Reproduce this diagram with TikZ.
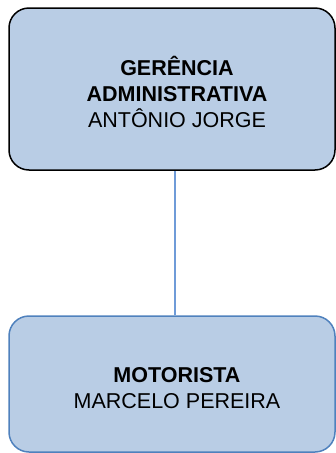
\documentclass[tikz,border=0pt]{standalone}
\usepackage{fontspec}
\setmainfont{Liberation Sans}
\definecolor{boxfill}{HTML}{B9CDE5}
\definecolor{boxblue}{HTML}{4F81BD}
\definecolor{linkblue}{HTML}{6F9BD8}
\begin{document}
\begin{tikzpicture}[x=1pt,y=1pt,
  orgbox/.style={draw, fill=boxfill, rounded corners=20pt, line width=1.5pt, minimum width=326pt, inner sep=0pt},
  orgtext/.style={align=center, font=\fontsize{21.5}{26}\selectfont, inner sep=0pt}]
\useasboundingbox (0,0) rectangle (336,-453);
\node[orgbox, draw=black, minimum height=162pt] (top) at (172,-89) {};
\node[orgbox, draw=boxblue, minimum height=136pt] (bot) at (172,-384) {};
\draw[linkblue, line width=1.1pt] (175,-170.8) coordinate (a) -- (175,-315.2) coordinate (b);
\node[orgtext] (toptext) at (177,-92) {\textbf{GERÊNCIA}\\\textbf{ADMINISTRATIVA}\\ANTÔNIO JORGE};
\node[orgtext] (bottext) at (177,-388) {\textbf{MOTORISTA}\\MARCELO PEREIRA};
\end{tikzpicture}
\end{document}
